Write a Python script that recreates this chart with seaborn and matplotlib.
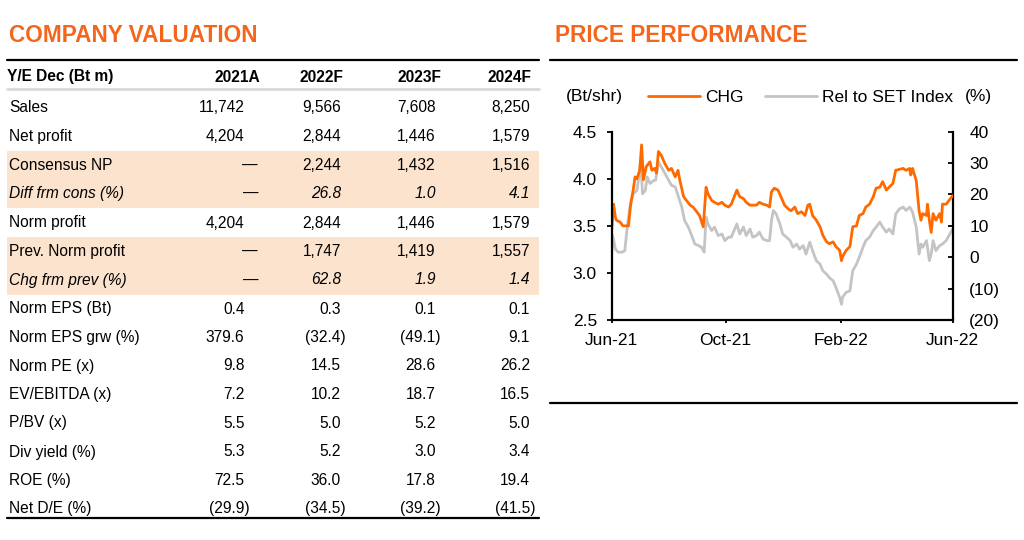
import pandas as pd
import matplotlib.pyplot as plt
import matplotlib.dates as mdates
from matplotlib.ticker import FuncFormatter, MultipleLocator
import seaborn as sns

# ---- table data ----
years = ["2021A", "2022F", "2023F", "2024F"]
row_labels = ["Sales", "Net profit", "Consensus NP", "Diff frm cons (%)", "Norm profit",
              "Prev. Norm profit", "Chg frm prev (%)", "Norm EPS (Bt)", "Norm EPS grw (%)",
              "Norm PE (x)", "EV/EBITDA (x)", "P/BV (x)", "Div yield (%)", "ROE (%)", "Net D/E (%)"]
sales = [11742, 9566, 7608, 8250]
net_profit = [4204, 2844, 1446, 1579]
consensus_np = [None, 2244, 1432, 1516]
diff_cons = [None, 26.8, 1.0, 4.1]
norm_profit = [4204, 2844, 1446, 1579]
prev_norm_profit = [None, 1747, 1419, 1557]
chg_prev = [None, 62.8, 1.9, 1.4]
norm_eps = [0.4, 0.3, 0.1, 0.1]
norm_eps_grw = [379.6, -32.4, -49.1, 9.1]
norm_pe = [9.8, 14.5, 28.6, 26.2]
ev_ebitda = [7.2, 10.2, 18.7, 16.5]
pbv = [5.5, 5.0, 5.2, 5.0]
div_yield = [5.3, 5.2, 3.0, 3.4]
roe = [72.5, 36.0, 17.8, 19.4]
net_de = [-29.9, -34.5, -39.2, -41.5]
table_rows = [sales, net_profit, consensus_np, diff_cons, norm_profit, prev_norm_profit,
              chg_prev, norm_eps, norm_eps_grw, norm_pe, ev_ebitda, pbv, div_yield, roe, net_de]
int_rows = {"Sales", "Net profit", "Consensus NP", "Norm profit", "Prev. Norm profit"}
italic_rows = {"Diff frm cons (%)", "Chg frm prev (%)"}
shaded_rows = ["Consensus NP", "Diff frm cons (%)", "Prev. Norm profit", "Chg frm prev (%)"]

# ---- price performance data (days after 2021-06-01) ----
start = pd.Timestamp("2021-06-01")
chg_day = [0, 2, 4, 5, 9, 12, 18, 20, 21, 23, 25, 27, 30, 32, 34, 37, 41, 43, 46, 48,
           50, 53, 57, 61, 64, 68, 71, 73, 77, 80, 84, 87, 91, 94, 98, 101, 103, 107, 110, 114,
           118, 121, 125, 128, 134, 137, 141, 144, 148, 151, 155, 158, 162, 166, 169, 171, 174, 178, 182, 185,
           189, 192, 196, 199, 203, 207, 210, 212, 215, 219, 223, 226, 230, 233, 237, 240, 244, 246, 247, 251,
           255, 258, 262, 265, 269, 272, 276, 280, 283, 287, 290, 294, 297, 301, 304, 308, 312, 315, 319, 320,
           322, 326, 329, 331, 333, 337, 338, 340, 342, 344, 347, 351, 353, 354, 358, 361, 365]
chg_price = [3.45, 3.73, 3.59, 3.56, 3.54, 3.50, 3.50, 3.70, 3.77, 3.88, 4.02, 4.00, 4.09, 4.36, 3.99, 4.13, 4.18, 4.09, 4.11, 4.06,
             4.29, 4.25, 4.16, 4.09, 4.11, 4.02, 4.09, 3.98, 3.81, 3.77, 3.72, 3.70, 3.65, 3.61, 3.49, 3.91, 3.84, 3.77, 3.75, 3.73,
             3.75, 3.72, 3.70, 3.73, 3.88, 3.81, 3.79, 3.75, 3.72, 3.72, 3.72, 3.75, 3.73, 3.72, 3.70, 3.86, 3.90, 3.88, 3.79, 3.72,
             3.68, 3.66, 3.70, 3.63, 3.65, 3.61, 3.72, 3.73, 3.61, 3.56, 3.49, 3.40, 3.33, 3.31, 3.33, 3.28, 3.24, 3.13, 3.17, 3.24,
             3.28, 3.49, 3.50, 3.61, 3.63, 3.70, 3.73, 3.81, 3.90, 3.91, 3.97, 3.88, 3.91, 3.95, 4.09, 4.10, 4.11, 4.09, 4.11, 4.04,
             4.11, 3.98, 3.66, 3.56, 3.63, 3.61, 3.73, 3.56, 3.43, 3.63, 3.56, 3.63, 3.54, 3.73, 3.73, 3.77, 3.82]
rel_day = [0, 1, 4, 7, 11, 14, 17, 20, 23, 27, 29, 31, 33, 36, 38, 41, 45, 47, 50, 53,
           57, 61, 64, 68, 71, 75, 78, 82, 85, 89, 93, 96, 99, 101, 103, 107, 110, 114, 118, 121,
           125, 128, 134, 137, 141, 144, 148, 151, 155, 158, 162, 166, 169, 171, 173, 176, 180, 183, 187, 191,
           194, 198, 201, 205, 208, 212, 215, 219, 223, 226, 230, 233, 237, 240, 244, 246, 247, 251, 255, 258,
           262, 265, 269, 272, 276, 280, 283, 287, 290, 294, 297, 301, 304, 308, 312, 315, 319, 322, 326, 329,
           331, 333, 337, 340, 342, 344, 347, 351, 354, 358, 361, 365]
rel_pct = [1.0, 6.9, 2.6, 1.6, 1.6, 2.1, 10.6, 17.0, 20.2, 21.3, 25.6, 30.9, 20.2, 21.3, 25.6, 23.5, 24.5, 24.5, 30.4, 28.8,
           26.7, 24.5, 22.9, 22.4, 19.7, 16.0, 11.7, 9.6, 7.4, 4.2, 3.7, 3.2, 1.6, 12.8, 10.6, 8.5, 9.6, 6.9, 7.4, 5.3,
           6.4, 6.4, 10.6, 7.4, 9.6, 6.9, 9.0, 6.4, 6.9, 8.0, 5.8, 5.3, 5.3, 11.7, 14.9, 13.8, 10.6, 7.4, 6.4, 5.3,
           3.2, 4.2, 2.6, 3.7, 1.0, 4.8, 2.1, -1.1, -2.2, -4.3, -5.4, -6.5, -7.5, -9.6, -12.8, -15.0, -12.8, -11.2, -10.7, -4.3,
           -2.2, 0.0, 3.2, 5.3, 6.4, 8.5, 9.6, 11.2, 9.6, 8.0, 9.0, 7.4, 13.8, 15.4, 16.0, 14.9, 16.0, 14.4, 9.6, 1.0,
           4.2, 3.2, 5.3, -1.1, 1.0, 5.3, 2.1, 3.7, 4.2, 5.3, 6.9, 9.0]

ORANGE = "#FF6A00"
TITLE_ORANGE = "#F4661B"
GRAY = "#C4C4C4"
PEACH = "#FCE3CD"

sns.set_theme(style="white")
plt.rcParams["font.family"] = ["Liberation Sans", "DejaVu Sans"]
plt.rcParams["text.color"] = "black"
plt.rcParams["xtick.color"] = "black"
plt.rcParams["ytick.color"] = "black"

fig = plt.figure(figsize=(10.24, 5.4), dpi=100)

# ---- left: valuation table (drawn in pixel space) ----
tab = fig.add_axes([0, 0, 1, 1])
tab.set_xlim(0, 1024)
tab.set_ylim(540, 0)
tab.axis("off")

tab.text(9, 36, "COMPANY VALUATION", fontsize=16.3, fontweight="bold", color=TITLE_ORANGE, va="center")
tab.plot([7, 539], [60, 60], color="black", lw=1.6)
tab.plot([7, 539], [89, 89], color="#D9D9D9", lw=2)
tab.plot([7, 539], [518, 518], color="black", lw=1.6)

row_y = [108, 136.5, 165, 193.5, 223, 251.5, 280, 309, 337.5, 366, 394.5, 423, 452, 480.5, 509]
col_right = [244.5, 341, 435.6, 530]
head_right = [260, 344, 441, 532]
fs = 11.2

for name in shaded_rows:
    y = row_y[row_labels.index(name)]
    tab.fill_between([7, 539], y - 14.5, y + 14.5, color=PEACH, lw=0, zorder=0)

tab.text(7, 77, "Y/E Dec (Bt m)", fontsize=fs, fontweight="bold", va="center")
for yr, xr in zip(years, head_right):
    tab.text(xr, 77, yr, fontsize=fs, fontweight="bold", ha="right", va="center")


def fmt(v, as_int):
    if v is None:
        return "\u2014"
    s = f"{abs(v):,.0f}" if as_int else f"{abs(v):,.1f}"
    return f"({s})" if v < 0 else s


for label, vals, y in zip(row_labels, table_rows, row_y):
    style = "italic" if label in italic_rows else "normal"
    tab.text(9, y, label, fontsize=fs, style=style, va="center")
    for v, xr in zip(vals, col_right):
        shift = 0 if (v is not None and v >= 0) else (13 if v is None else 5)
        tab.text(xr + shift, y, fmt(v, label in int_rows), fontsize=fs, style=style,
                 ha="right", va="center")

# ---- right: price performance ----
tab.text(555, 36, "PRICE PERFORMANCE", fontsize=16.3, fontweight="bold", color=TITLE_ORANGE, va="center")
tab.plot([550, 1017], [60, 60], color="black", lw=1.6)
tab.plot([550, 1017], [403, 403], color="black", lw=1.6)

chg_df = pd.DataFrame({"date": start + pd.to_timedelta(chg_day, unit="D"), "price": chg_price})
rel_df = pd.DataFrame({"date": start + pd.to_timedelta(rel_day, unit="D"), "rel": rel_pct})

ax = fig.add_axes([611.7 / 1024, 1 - 320 / 540, (952.7 - 611.7) / 1024, (320 - 131.7) / 540])
ax2 = ax.twinx()
sns.lineplot(data=rel_df, x="date", y="rel", ax=ax2, color=GRAY, lw=2.0, label="Rel to SET Index", legend=False)
sns.lineplot(data=chg_df, x="date", y="price", ax=ax, color=ORANGE, lw=2.0, label="CHG", legend=False)
ax.set_zorder(ax2.get_zorder() + 1)
ax.patch.set_visible(False)

ax.set_xlim(start, pd.Timestamp("2022-06-01"))
ax.set_ylim(2.5, 4.5)
ax2.set_ylim(-20, 40)
ax.yaxis.set_major_locator(MultipleLocator(0.5))
ax.yaxis.set_major_formatter(FuncFormatter(lambda v, p: f"{v:.1f}"))
ax2.yaxis.set_major_locator(MultipleLocator(10))
ax2.yaxis.set_major_formatter(FuncFormatter(lambda v, p: f"({abs(v):.0f})" if v < 0 else f"{v:.0f}"))
ax.xaxis.set_major_locator(mdates.MonthLocator(bymonth=[2, 6, 10]))
ax.xaxis.set_major_formatter(mdates.DateFormatter("%b-%y"))
ax.set_xlabel("")
ax.set_ylabel("")
ax2.set_ylabel("")

for a in (ax, ax2):
    for sp in a.spines.values():
        sp.set_visible(False)
        sp.set_color("black")
        sp.set_linewidth(1.6)
ax.spines["left"].set_visible(True)
ax.spines["bottom"].set_visible(True)
ax2.spines["right"].set_visible(True)

ax.tick_params(axis="x", bottom=True, direction="out", length=2.5, width=1.3, pad=7, labelsize=12.5)
ax.tick_params(axis="y", left=True, direction="out", length=3.6, width=1.3, pad=7, labelsize=12.5)
ax2.tick_params(axis="y", right=True, direction="in", length=3.6, width=1.3, pad=12, labelsize=12.5)

handles = ax.get_lines()[:1] + ax2.get_lines()[:1]
fig.legend(handles, ["CHG", "Rel to SET Index"], loc="center left",
           bbox_to_anchor=(648 / 1024, 1 - 97 / 540), ncol=2, frameon=False,
           handlelength=3.0, handletextpad=0.3, columnspacing=1.2,
           borderpad=0, borderaxespad=0, fontsize=12.5)
tab.text(566, 97, "(Bt/shr)", fontsize=12.5, va="center")
tab.text(965, 97, "(%)", fontsize=12.5, va="center")

fig.savefig("out.png", dpi=100)
